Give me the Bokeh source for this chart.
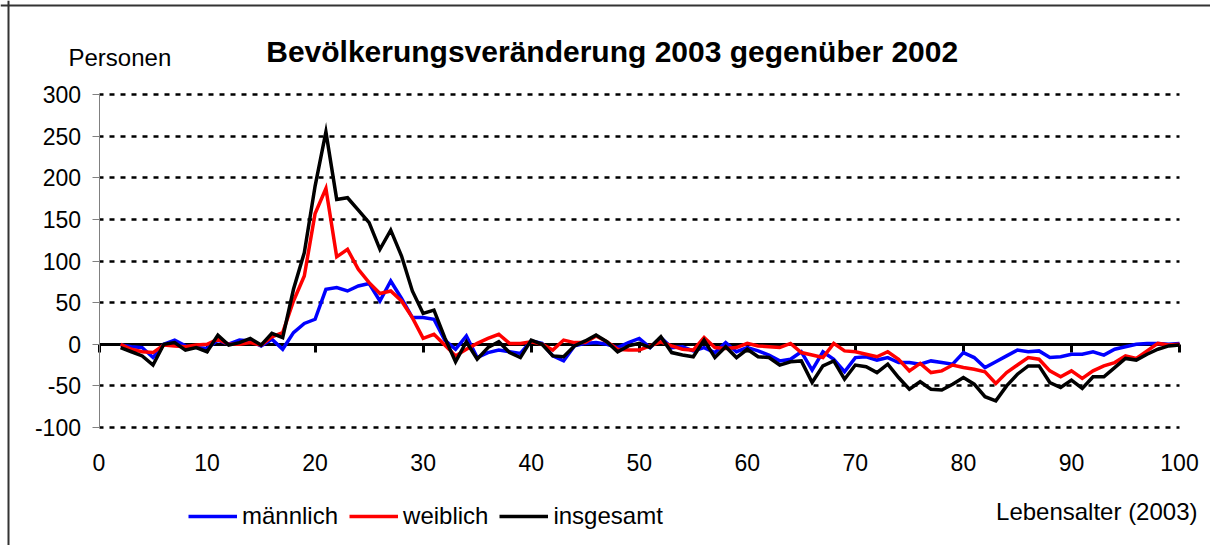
from bokeh.plotting import figure
from bokeh.models import (Range1d, FixedTicker, LinearAxis, Label, CustomJSTickFormatter,
                          Grid, Span, Legend, LegendItem)
from bokeh.embed import file_html
from bokeh.resources import INLINE

ages = list(range(2, 101))
maennlich = [-1, -3, -4, -16, 0, 5, -2, -4, -5, 5, 0, 5, 4, -2, 6, -6, 14, 25, 30,
             66, 68, 64, 70, 73, 52, 76, 55, 32, 32, 30, 5, -6, 10, -16, -10, -7, -9, -11,
             4, 1, -14, -20, -2, 1, 2, 0, -4, 2, 7, -4, 8, -4, -3, -8, -4, -10, 2, -9,
             -4, -8, -13, -20, -18, -9, -31, -9, -18, -33, -16, -15, -19, -16, -22, -22,
             -24, -20, -22, -24, -10, -16, -28, -21, -14, -7, -9, -8, -16, -15, -12, -12,
             -9, -13, -6, -3, 0, 1, 1, 0, 1]
weiblich = [0, -6, -9, -10, -1, -2, -3, -1, 0, 6, 0, 0, 2, -1, 9, 14, 52, 82, 157,
            187, 105, 114, 90, 74, 61, 64, 52, 32, 7, 12, -1, -14, -6, 1, 7, 12, 1, 1,
            3, 0, -7, 5, 2, 2, 10, 3, -6, -7, -7, -2, 3, -2, -6, -7, 8, -4, -5, -4,
            1, -2, -3, -4, 1, -10, -13, -16, 1, -8, -9, -12, -15, -9, -18, -32,
            -23, -34, -32, -25, -28, -30, -33, -47, -34, -25, -16, -18, -32, -39, -32, -41,
            -32, -26, -22, -14, -17, -8, 1, -1, 0]
insgesamt = [-4, -9, -14, -25, 0, 2, -7, -4, -9, 11, -1, 2, 7, -1, 13, 8, 66, 110, 190,
             255, 174, 176, 161, 146, 114, 137, 106, 64, 37, 41, 8, -21, 3, -18, -4, 3, -10, -16,
             5, 0, -14, -15, -2, 4, 11, 3, -9, -2, 1, -4, 9, -10, -13, -15, 5, -16, -3, -16,
             -6, -15, -16, -25, -21, -20, -46, -26, -20, -42, -25, -27, -34, -24, -40, -54,
             -45, -54, -55, -48, -40, -48, -63, -68, -50, -36, -26, -26, -46, -52, -43, -53,
             -39, -39, -28, -17, -19, -12, -6, -2, -1]

series_names = ["männlich", "weiblich", "insgesamt"]
series_colors = ["#0000FF", "#FF0000", "#000000"]
x_ticks = [0, 10, 20, 30, 40, 50, 60, 70, 80, 90, 100]
y_ticks = [-100, -50, 0, 50, 100, 150, 200, 250, 300]
y_tick_labels = ["-100", "-50", "0", "50", "100", "150", "200", "250", "300"]

title_text = "Bevölkerungsveränderung 2003 gegenüber 2002"
y_title = "Personen"
x_title = "Lebensalter (2003)"

FONT = "Liberation Sans"

# ---- layout (pixels in the canvas) ----
W, H = 1210, 545
PX_X0, PX_X100 = 98.5, 1179.0      # where age 0 and age 100 sit
PX_Y300, PX_YM100 = 94.0, 427.0    # where 300 and -100 sit
PX_BORDER_LEFT, PX_BORDER_TOP = 8.0, 5.0
X_MIN, X_MAX = x_ticks[0], x_ticks[-1]
Y_MIN, Y_MAX = y_ticks[0], y_ticks[-1]
sx = (PX_X100 - PX_X0) / (X_MAX - X_MIN)
sy = (PX_YM100 - PX_Y300) / (Y_MAX - Y_MIN)
x_range = Range1d(X_MIN - PX_X0 / sx, X_MAX + (W - PX_X100) / sx)
y_range = Range1d(Y_MIN - (H - PX_YM100) / sy, Y_MAX + PX_Y300 / sy)

p = figure(width=W, height=H, output_backend="svg", toolbar_location=None,
           x_range=x_range, y_range=y_range, x_axis_type=None, y_axis_type=None,
           min_border=0)
p.outline_line_color = None
p.background_fill_color = "white"
p.border_fill_color = "white"
p.styles = {"border": "none", "outline": "none", "box-shadow": "none"}

# horizontal dotted grid lines, limited to the plot area
grid_kw = dict(dimension=1, ticker=FixedTicker(ticks=y_ticks), grid_line_color="black",
               grid_line_dash="5 6", grid_line_width=2.5, grid_line_dash_offset=1)
if "cross_bounds" in Grid.properties():
    grid = Grid(bounds=(Y_MIN, Y_MAX), cross_bounds=(X_MIN, X_MAX), **grid_kw)
    p.add_layout(grid)
else:
    p.multi_line([[X_MIN, X_MAX] for _ in y_ticks], [[t, t] for t in y_ticks],
                 line_color="black", line_dash="5 6", line_width=2.5, line_dash_offset=1)

# zero line with ticks (drawn beneath the series)
za = LinearAxis(ticker=FixedTicker(ticks=x_ticks), fixed_location=0, bounds=(X_MIN, X_MAX),
                formatter=CustomJSTickFormatter(code="return ''"))
za.axis_line_color = "black"
za.axis_line_width = 3
za.major_tick_line_color = "black"
za.major_tick_line_width = 3
za.major_tick_in = 0
za.major_tick_out = 8
za.minor_tick_line_color = None
za.level = "underlay"
p.add_layout(za, "below")

# y axis
ya = LinearAxis(ticker=FixedTicker(ticks=y_ticks), fixed_location=X_MIN, bounds=(Y_MIN, Y_MAX),
                major_label_overrides={t: s for t, s in zip(y_ticks, y_tick_labels)})
ya.axis_line_color = "#808080"
ya.axis_line_width = 1
ya.major_tick_line_color = "#808080"
ya.major_tick_out = 7
ya.major_tick_in = 0
ya.minor_tick_line_color = None
ya.major_label_text_font = FONT
ya.major_label_text_font_size = "23px"
ya.major_label_text_color = "black"
ya.major_label_standoff = 11
p.add_layout(ya, "left")

# x tick labels (low, at the bottom of the plot area)
xa = LinearAxis(ticker=FixedTicker(ticks=x_ticks), fixed_location=Y_MIN, bounds=(X_MIN, X_MAX))
xa.axis_line_color = None
xa.major_tick_line_color = None
xa.major_tick_out = 0
xa.minor_tick_line_color = None
xa.major_label_text_font = FONT
xa.major_label_text_font_size = "23px"
xa.major_label_text_color = "black"
xa.major_label_standoff = 26
p.add_layout(xa, "below")

# series
vals = [maennlich, weiblich, insgesamt]
items = []
for name, col, v in zip(series_names, series_colors, vals):
    r = p.line(ages, v, line_color=col, line_width=3.5, line_join="miter")
    items.append(LegendItem(label=name, renderers=[r]))

lg = Legend(items=items, orientation="horizontal", location=(188, H - 530))
lg.glyph_width = 49
lg.glyph_height = 24
lg.label_height = 24
lg.label_standoff = 5
lg.spacing = 11
lg.padding = 0
lg.margin = 0
lg.border_line_alpha = 0
lg.background_fill_alpha = 0
lg.label_text_font = FONT
lg.label_text_font_size = "24px"
lg.label_text_color = "black"
p.add_layout(lg)

p.add_layout(Label(x=611.7, y=H - 51, x_units="screen", y_units="screen", text=title_text,
                   text_align="center", text_baseline="alphabetic", text_font=FONT,
                   text_font_size="30px", text_font_style="bold", text_color="black"))
p.add_layout(Label(x=68, y=H - 57, x_units="screen", y_units="screen", text=y_title,
                   text_align="left", text_baseline="alphabetic", text_font=FONT,
                   text_font_size="24px", text_color="black"))
p.add_layout(Label(x=1197, y=H - 511, x_units="screen", y_units="screen", text=x_title,
                   text_align="right", text_baseline="alphabetic", text_font=FONT,
                   text_font_size="24px", text_color="black"))

# chart-area border (only its left and top edges lie inside the picture)
p.add_layout(Span(location=X_MIN + (PX_BORDER_LEFT - PX_X0) / sx, dimension="height",
                  line_color="#333333", line_width=2))
p.add_layout(Span(location=Y_MAX + (PX_Y300 - PX_BORDER_TOP) / sy, dimension="width",
                  line_color="#333333", line_width=2))

open("out.html", "w").write(file_html(p, INLINE))
